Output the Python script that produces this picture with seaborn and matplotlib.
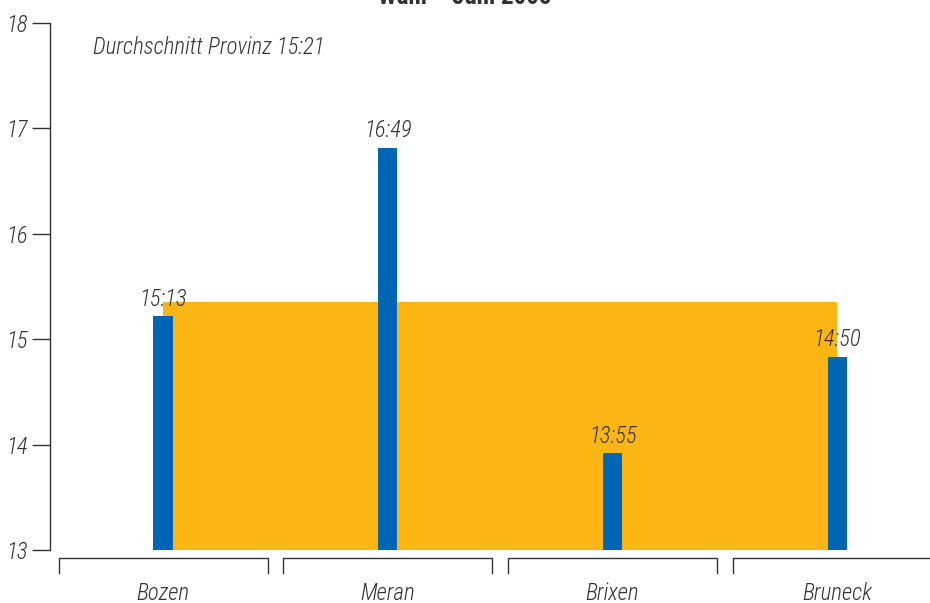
import matplotlib
matplotlib.use("Agg")
import matplotlib.pyplot as plt
import matplotlib.transforms as mtransforms
from matplotlib import font_manager
import seaborn as sns
import pandas as pd

# Durchschnittliche Zeiten je Gemeinde (Stunden:Minuten)
gemeinden = ["Bozen", "Meran", "Brixen", "Bruneck"]
zeiten = ["15:13", "16:49", "13:55", "14:50"]
durchschnitt = "15:21"
titel = "Wahl \u2013 Juni 2005"
y_ticks = [13, 14, 15, 16, 17, 18]


def in_stunden(t):
    h, m = t.split(":")
    return int(h) + int(m) / 60.0


werte = [in_stunden(t) for t in zeiten]
avg = in_stunden(durchschnitt)
df = pd.DataFrame({"Gemeinde": gemeinden, "Wert": werte})

sns.set_theme(style="white")
names = {f.name for f in font_manager.fontManager.ttflist}
fam = [f for f in ["Roboto Condensed", "Liberation Sans Narrow", "Liberation Sans", "DejaVu Sans"] if f in names]
plt.rcParams["font.family"] = fam

BLUE = "#0066B3"
ORANGE = "#FBB615"
TXT = "#333333"
FS = 16.5
FW = "light"

fig = plt.figure(figsize=(9.3, 6.03), dpi=100)
ax = fig.add_axes([50 / 930, 53 / 603, 880 / 930, 527 / 603])

# Durchschnitt als Fläche über alle Gemeinden
ax.fill_between(range(len(gemeinden)), y_ticks[0], avg, color=ORANGE, linewidth=0, zorder=1)

sns.barplot(data=df, x="Gemeinde", y="Wert", color=BLUE, width=0.085,
            saturation=1, ax=ax, linewidth=0, edgecolor=BLUE)

# Balken beginnen bei 13
for p, v in zip(ax.patches, werte):
    p.set_zorder(2)
    p.set_y(y_ticks[0])
    p.set_height(v - y_ticks[0])

for i, (v, t) in enumerate(zip(werte, zeiten)):
    ax.text(i, v + 0.05, t, ha="center", va="bottom", fontsize=FS,
            style="italic", fontweight=FW, color=TXT, zorder=3)

ax.text(-0.31, 17.77, f"Durchschnitt Provinz {durchschnitt}", ha="left", va="center",
        fontsize=FS, style="italic", fontweight=FW, color=TXT)

ax.set_ylim(y_ticks[0], y_ticks[-1])
ax.set_xlim(-0.503, 3.413)
ax.set_yticks(y_ticks)
ax.set_yticklabels([str(t) for t in y_ticks], fontsize=FS, style="italic",
                   fontweight=FW, color=TXT)
ax.tick_params(axis="y", direction="out", length=13, width=1, color=TXT, pad=3, left=True)
ax.set_xticks([])
ax.set_xlabel("")
ax.set_ylabel("")
for s in ["top", "right", "bottom"]:
    ax.spines[s].set_visible(False)
ax.spines["left"].set_color(TXT)
ax.spines["left"].set_linewidth(1)

# Klammern unter den Kategorien
trans = mtransforms.blended_transform_factory(ax.transData, ax.transAxes)
y1 = -8 / 527
y2 = -23 / 527
for i, g in enumerate(gemeinden):
    ax.plot([i - 0.465, i - 0.465, i + 0.465, i + 0.465], [y2, y1, y1, y2],
            transform=trans, color=TXT, linewidth=1, clip_on=False)
    ax.text(i, -43 / 527, g, transform=trans, ha="center", va="center",
            fontsize=FS, style="italic", fontweight=FW, color=TXT)

fig.text(0.5, 1 - 4 / 603, titel, ha="center", va="baseline", fontsize=18,
         fontweight="bold", color=TXT)

fig.savefig("out.png", dpi=100)
